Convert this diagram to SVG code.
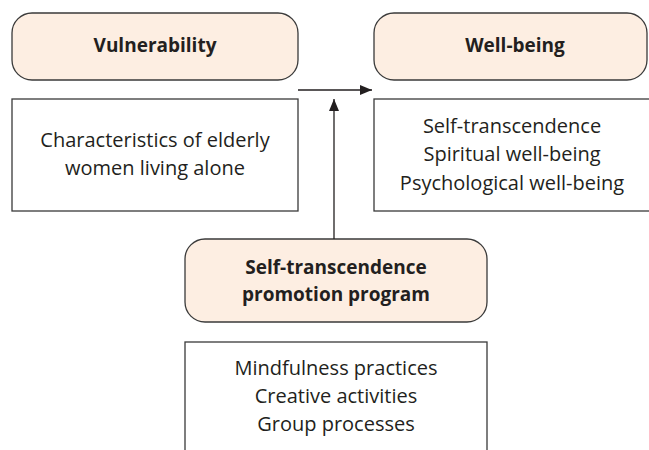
<svg xmlns="http://www.w3.org/2000/svg" width="649" height="450" viewBox="0 0 649 450">
<defs>
<style>
.hdr{fill:#fdeee2;stroke:#3a3a3a;stroke-width:1.3}
.box{fill:#ffffff;stroke:#3a3a3a;stroke-width:1.3}
text{font-family:"Open Sans","Noto Sans",sans-serif;fill:#231f20;text-anchor:middle}
.b{font-weight:bold;font-size:19px}
.t{font-size:20px}
.con{stroke:#231f20;stroke-width:1.3;fill:none}
</style>
<marker id="ah" viewBox="0 0 12 10" refX="12" refY="5" markerWidth="12" markerHeight="10" markerUnits="userSpaceOnUse" orient="auto">
<path d="M0,0 L12,5 L0,10 Z" fill="#231f20"/>
</marker>
</defs>
<rect width="649" height="450" fill="#ffffff"/>
<g id="vulnerability">
<rect class="hdr" x="12" y="13" width="286" height="67" rx="20"/>
<text class="b" x="155" y="52">Vulnerability</text>
</g>
<g id="characteristics">
<rect class="box" x="12" y="99" width="286" height="112"/>
<text class="t" x="155" y="147">Characteristics of elderly</text>
<text class="t" x="155" y="175">women living alone</text>
</g>
<g id="wellbeing">
<rect class="hdr" x="374" y="13" width="273" height="67" rx="20"/>
<text class="b" x="515" y="52">Well-being</text>
</g>
<g id="outcomes">
<rect class="box" x="374" y="99" width="276" height="112"/>
<text class="t" x="512" y="133">Self-transcendence</text>
<text class="t" x="512" y="161">Spiritual well-being</text>
<text class="t" x="512" y="190">Psychological well-being</text>
</g>
<g id="program">
<rect class="hdr" x="185" y="239" width="302" height="83" rx="20"/>
<text class="b" x="336" y="274">Self-transcendence</text>
<text class="b" x="336" y="301">promotion program</text>
</g>
<g id="components">
<rect class="box" x="185" y="342" width="302" height="115"/>
<text class="t" x="336" y="375">Mindfulness practices</text>
<text class="t" x="336" y="403">Creative activities</text>
<text class="t" x="336" y="431">Group processes</text>
</g>
<g id="connectors">
<line class="con" x1="298" y1="90" x2="372" y2="90" marker-end="url(#ah)"/>
<line class="con" x1="334" y1="239" x2="334" y2="99" marker-end="url(#ah)"/>
</g>
</svg>
